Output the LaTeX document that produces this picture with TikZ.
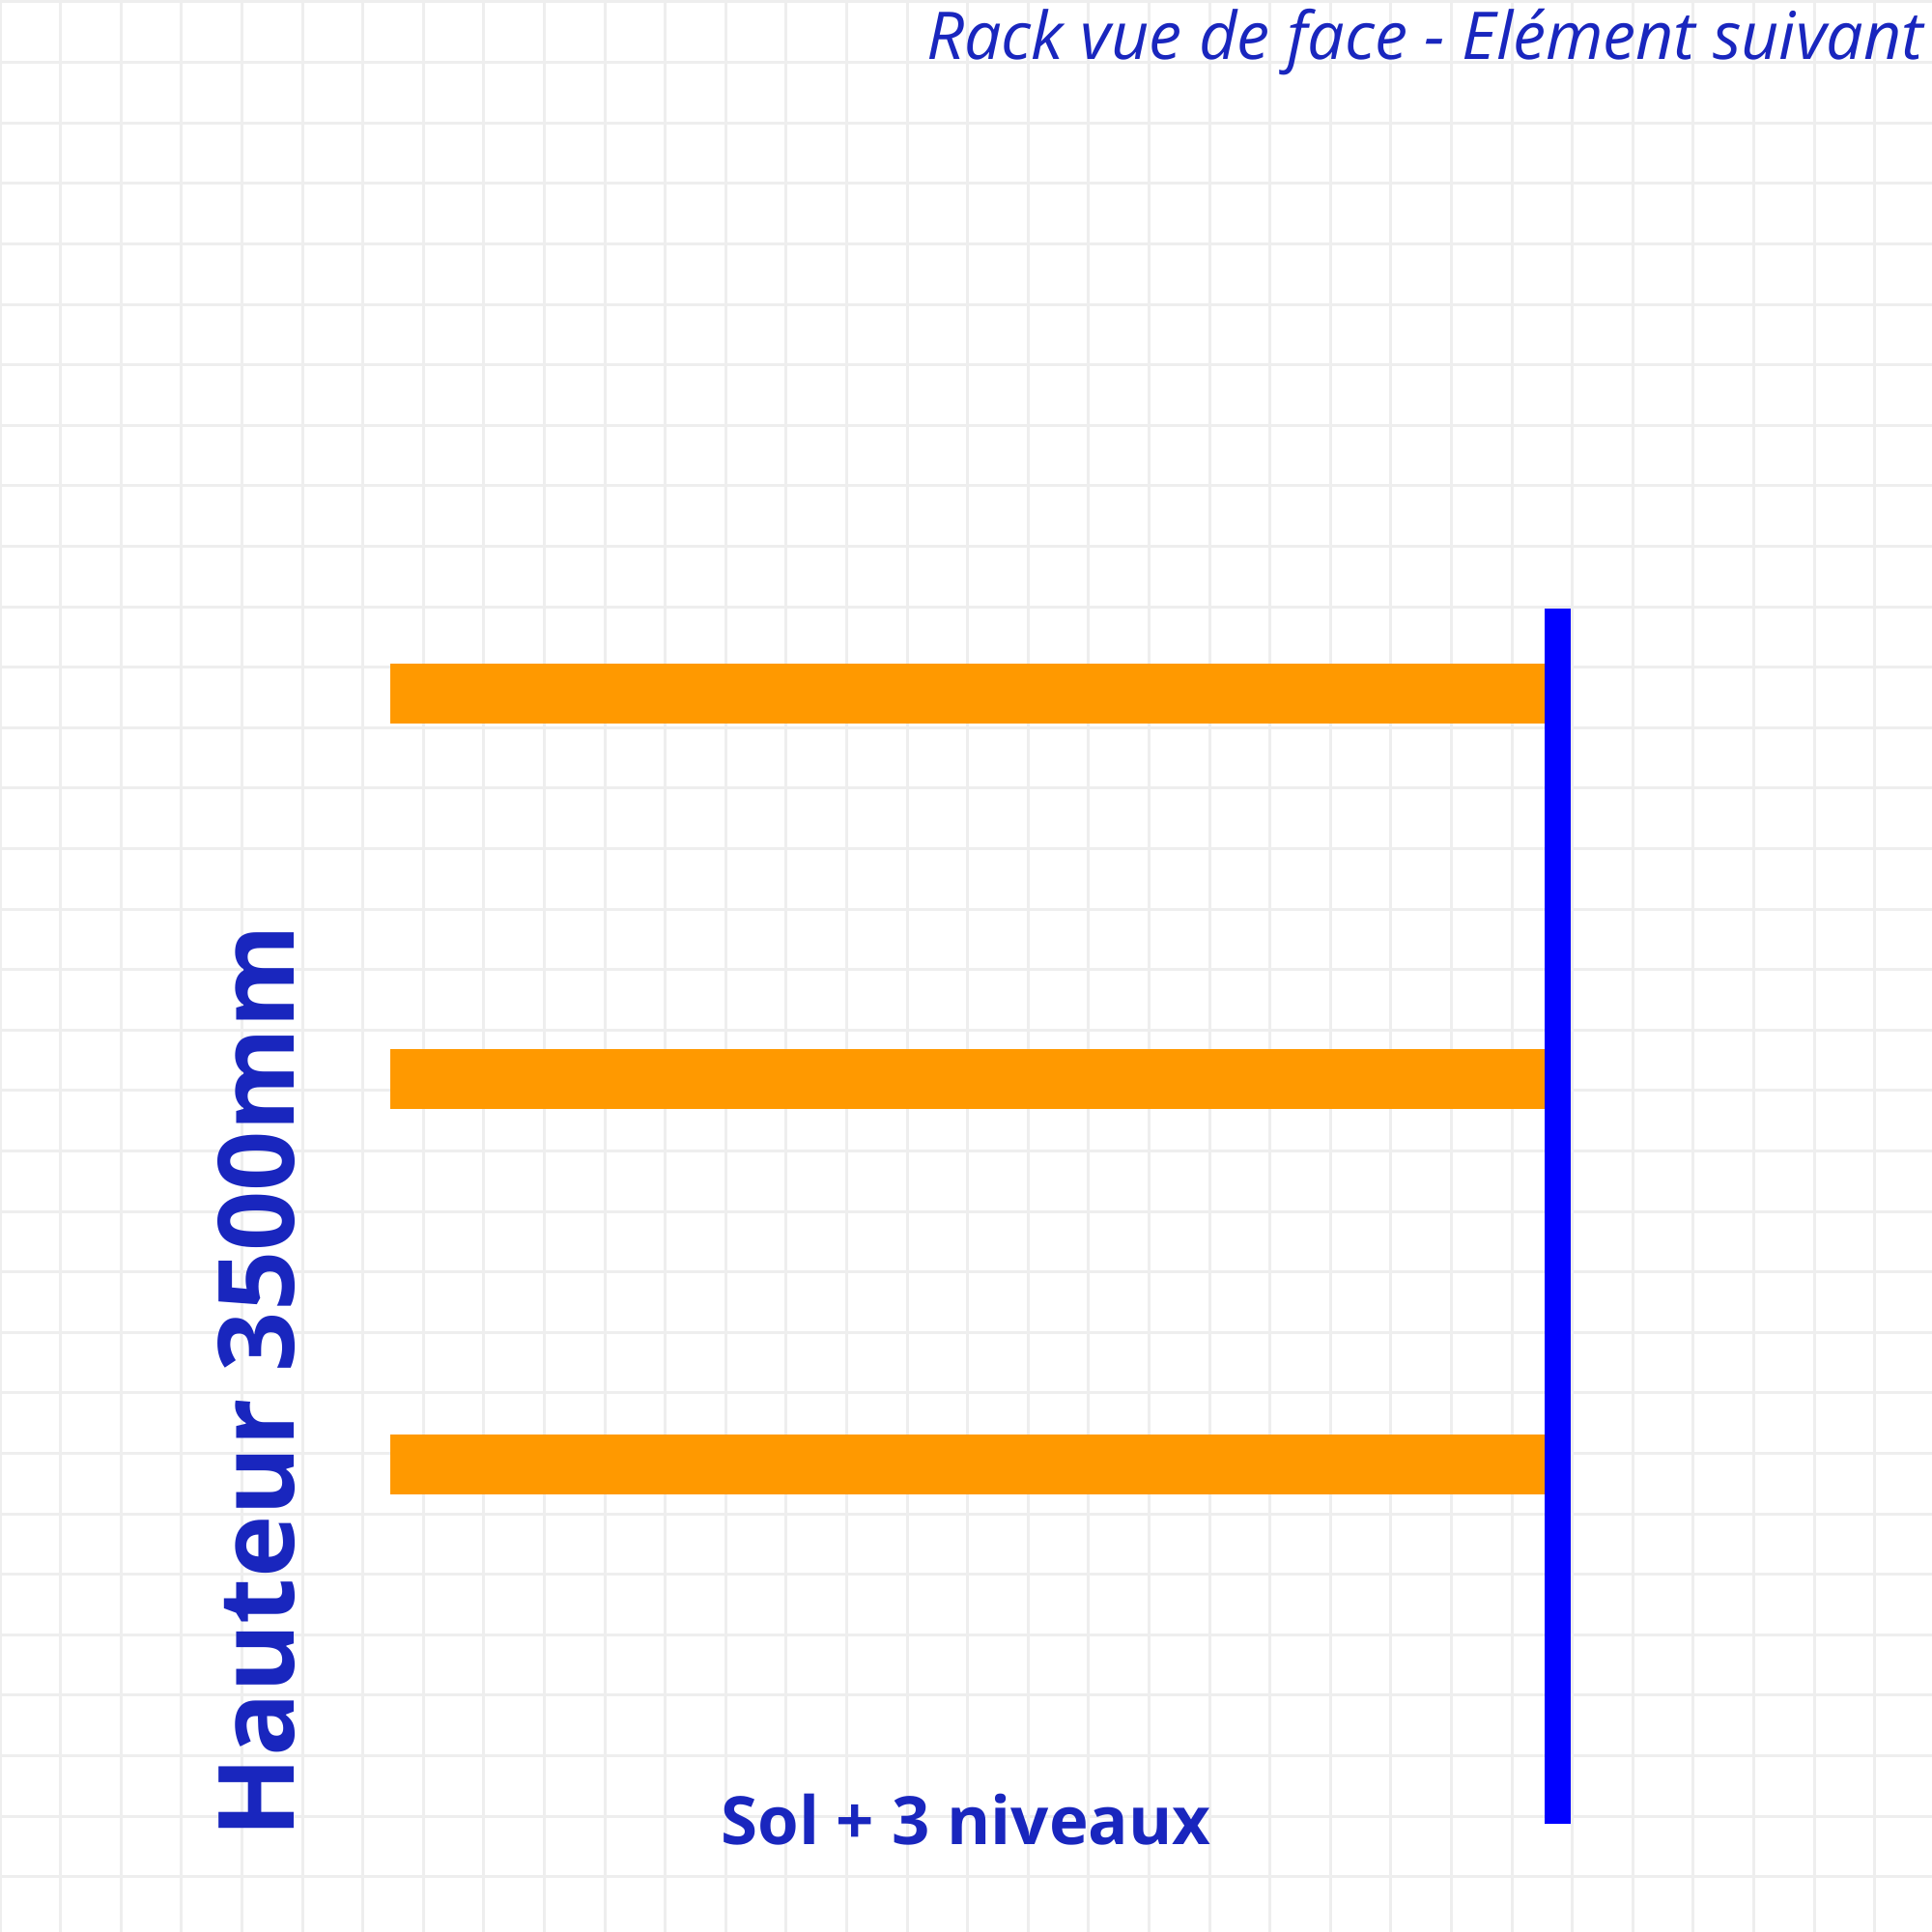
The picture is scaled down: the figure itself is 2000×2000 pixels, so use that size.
\documentclass[tikz,border=0pt]{standalone}
\usepackage{fontspec}
\setmainfont{Open Sans}
\usepackage{tikz}
\usetikzlibrary{positioning}
\definecolor{gridgray}{HTML}{EEEEEE}
\definecolor{beamorange}{HTML}{FF9900}
\definecolor{postblue}{HTML}{0000FF}
\definecolor{labelblue}{RGB}{25,38,190}
\tikzstyle{gridline}=[draw=gridgray,line width=0.3mm]
\tikzstyle{beam}=[fill=beamorange,draw=none]
\tikzstyle{post}=[fill=postblue,draw=none]
\tikzstyle{lbl}=[text=labelblue,inner sep=0pt,outer sep=0pt]

\begin{document}
\begin{tikzpicture}[x=0.01cm,y=-0.01cm]
  \useasboundingbox (0,0) rectangle (2000,2000);
  \fill[white] (0,0) rectangle (2000,2000);
  % background grid
  \foreach \i in {0,...,31} {
    \draw[gridline] ({62.6*\i},0) -- ({62.6*\i},2000);
    \draw[gridline] (0,{2+62.6*\i}) -- (2000,{2+62.6*\i});
  }
  % beams (orange) and upright (blue)
  \foreach \y in {687,1086,1485}
    \path[beam] (404,\y) rectangle (1599,\y+62);
  \path[post] (1599,630) rectangle (1626,1888);
  % texts
  \node[lbl,anchor=base east] (title) at (1991,62)
    {\fontsize{19.4pt}{23pt}\selectfont\itshape Rack vue de face - Elément suivant};
  \node[lbl,anchor=base] (levels) at (1000,1909)
    {\fontsize{19.6pt}{24pt}\selectfont\bfseries Sol + 3 niveaux};
  \node[lbl,anchor=base west,rotate=90] (height) at (304,1902)
    {\fontsize{31pt}{37pt}\selectfont\bfseries Hauteur 3500mm};
\end{tikzpicture}
\end{document}
